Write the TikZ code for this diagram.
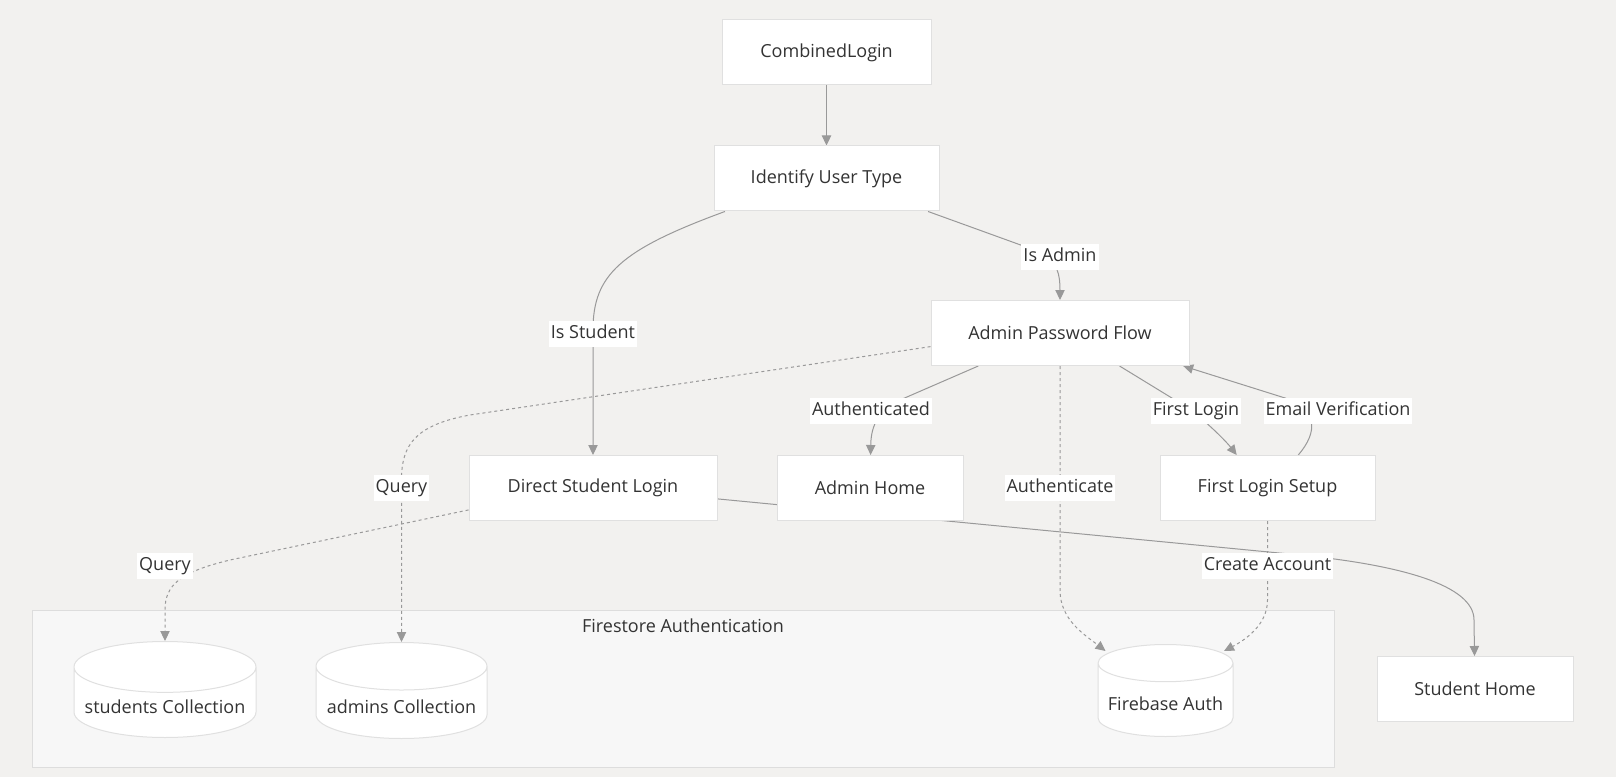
\documentclass[tikz,border=0pt]{standalone}
\usepackage{fontspec}
\setmainfont{Open Sans}
\usetikzlibrary{arrows.meta,positioning,calc,shapes.geometric}
\definecolor{bgcol}{HTML}{F2F1EF}
\definecolor{clusterfill}{HTML}{F7F7F7}
\definecolor{clusterline}{HTML}{DDDDDD}
\definecolor{nodeline}{HTML}{E0E0E0}
\definecolor{edgecol}{HTML}{999999}
\definecolor{textcol}{HTML}{333333}
\pgfdeclarelayer{bg}
\pgfdeclarelayer{edges}
\pgfsetlayers{bg,edges,main}

\begin{document}
\begin{tikzpicture}[x=0.75pt, y=-0.75pt,
  every node/.style={font=\fontsize{13.5}{16}\selectfont, text=textcol},
  box/.style={draw=nodeline, fill=white, line width=0.75pt, minimum height=48.75pt},
  db/.style={cylinder, shape border rotate=90, aspect=0.3, draw=nodeline, fill=white, line width=0.75pt, minimum height=72pt, anchor=north},
  arrow/.style={-{Triangle[length=7.5pt,width=7pt]}, draw=edgecol, line width=0.75pt},
  dotarrow/.style={arrow, dash pattern=on 2.25pt off 2.25pt},
  lbl/.style={fill=white, inner xsep=1.5pt, inner ysep=3pt, text height=10pt, text depth=3pt}]
\begin{pgfonlayer}{bg}
\fill[bgcol] (0,0) rectangle (1616,777);
\draw[clusterline, fill=clusterfill, line width=0.75pt] (32,610) rectangle (1334,767);
\end{pgfonlayer}
\useasboundingbox (0,0) rectangle (1616,777);

\node[box, minimum width=209*0.75pt] (login) at (826.5,52.5) {CombinedLogin};
\node[box, minimum width=225*0.75pt] (identify) at (826.5,178.5) {Identify User Type};
\node[box, minimum width=258*0.75pt] (adminflow) at (1060,333) {Admin Password Flow};
\node[box, minimum width=248*0.75pt] (direct) at (593,488) {Direct Student Login};
\node[box, minimum width=186*0.75pt] (adminhome) at (870,488) {Admin Home};
\node[box, minimum width=215*0.75pt] (setup) at (1267.5,488) {First Login Setup};
\node[box, minimum width=196*0.75pt] (studenthome) at (1475,689) {Student Home};

\node (fsauth) at (683,626) {Firestore Authentication};
\node[db, minimum width=182*0.75pt] (students) at (165,641) {students Collection};
\node[db, minimum width=171*0.75pt] (admins) at (401.5,642) {admins Collection};
\node[db, minimum width=135*0.75pt, minimum height=69pt] (firebase) at (1165.5,644) {Firebase Auth};

\begin{pgfonlayer}{edges}
\draw[arrow] (login) -- (identify);
\draw[arrow] (identify.198) .. controls (620,250) and (593,275) .. (593,330) -- (direct);
\draw[arrow] (identify.342) -- (1040,252) .. controls (1058,262) and (1060,275) .. (adminflow);
\draw[arrow] (adminflow.202) -- (900,400) .. controls (875,412) and (871,430) .. (adminhome);
\draw[dotarrow] (adminflow.south) -- (1060,590) .. controls (1060,620) and (1085,635) .. ($(firebase.north)+(-60,7)$);
\draw[arrow] (adminflow.331) -- (1180,403) .. controls (1200,415) and (1225,440) .. (setup.133);
\draw[arrow] (setup.47) .. controls (1318,432) and (1318,410) .. (1285,398) -- (adminflow.345);
\draw[dotarrow] (adminflow.186) -- (470,415) .. controls (415,425) and (401.5,445) .. (401.5,480) -- (admins.north);
\draw[dotarrow] (direct.190) -- (230,560) .. controls (180,572) and (165,585) .. (165,610) -- (students.north);
\draw[arrow] (direct.355) -- (1300,555) .. controls (1400,565) and (1474,585) .. (1474,620) -- (studenthome);
\draw[dotarrow] (setup.south) -- (1267.5,600) .. controls (1267.5,625) and (1245,640) .. ($(firebase.north)+(58.5,7)$);
\end{pgfonlayer}

\node[lbl] (lstudent) at (593,334) {Is Student};
\node[lbl] (ladmin) at (1060,257) {Is Admin};
\node[lbl] (lauthd) at (871,411) {Authenticated};
\node[lbl] (lauth) at (1060,488) {Authenticate};
\node[lbl] (lfirst) at (1196,411) {First Login};
\node[lbl] (lemail) at (1338,411) {Email Verification};
\node[lbl] (lqadmin) at (401.5,488) {Query};
\node[lbl] (lqstud) at (165,566) {Query};
\node[lbl] (lcreate) at (1267.5,566) {Create Account};
\end{tikzpicture}
\end{document}
